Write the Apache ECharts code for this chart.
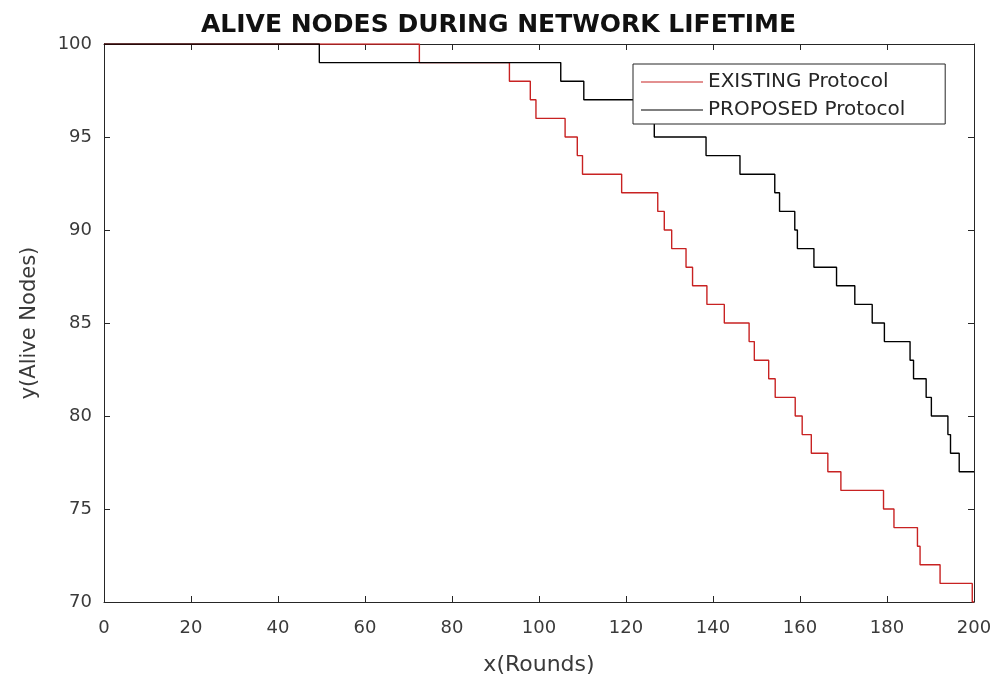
<!DOCTYPE html>
<html>
<head>
<meta charset="utf-8">
<script src="https://cdn.jsdelivr.net/npm/echarts@6/dist/echarts.min.js"></script>
<style>
html,body{margin:0;padding:0;background:#fff;}
#chart{width:997px;height:675px;}
</style>
</head>
<body>
<div id="chart"></div>
<script>
// ---- data ----
const titleText = 'ALIVE NODES DURING NETWORK LIFETIME';
const xAxisName = 'x(Rounds)';
const yAxisName = 'y(Alive Nodes)';
const seriesNames = ['EXISTING Protocol', 'PROPOSED Protocol'];

// rounds at which the number of alive nodes changes, and the new value
const existingRounds = [0, 72.5, 93.2, 98, 99.3, 106, 108.8, 110, 119, 127.3, 128.8, 130.5, 133.8, 135.3, 138.6, 142.6, 148.3, 149.5, 152.8, 154.3, 158.9, 160.5, 162.6, 166.4, 169.4, 179.2, 181.6, 187, 187.6, 192.2, 199.6, 200];
const existingAlive  = [100, 99, 98, 97, 96, 95, 94, 93, 92, 91, 90, 89, 88, 87, 86, 85, 84, 83, 82, 81, 80, 79, 78, 77, 76, 75, 74, 73, 72, 71, 70, 70];

const proposedRounds = [0, 49.5, 105, 110.3, 122, 126.5, 138.4, 146.2, 154.2, 155.3, 158.8, 159.4, 163.2, 168.4, 172.6, 176.6, 179.4, 185.3, 186.1, 189, 190.2, 194, 194.6, 196.6, 200];
const proposedAlive  = [100, 99, 98, 97, 96, 95, 94, 93, 92, 91, 90, 89, 88, 87, 86, 85, 84, 83, 82, 81, 80, 79, 78, 77, 77];

const xTicks = [0, 20, 40, 60, 80, 100, 120, 140, 160, 180, 200];
const yTicks = [70, 75, 80, 85, 90, 95, 100];

// ---- chart ----
const pairs = (xs, ys) => xs.map((x, i) => [x, ys[i]]);
const axisColor = '#262626';
const labelColor = '#3a3a3a';
const font = '"DejaVu Sans", "Liberation Sans", Arial, sans-serif';

const chart = echarts.init(document.getElementById('chart'), null, {renderer: 'canvas'});
const xCommon = {
  type: 'value', min: xTicks[0], max: xTicks[xTicks.length - 1], interval: xTicks[1] - xTicks[0],
  axisLine: {show: true, onZero: false, lineStyle: {color: axisColor, width: 1}},
  axisTick: {show: true, inside: true, length: 6, lineStyle: {color: axisColor}},
  splitLine: {show: false}
};
const yCommon = {
  type: 'value', min: yTicks[0], max: yTicks[yTicks.length - 1], interval: yTicks[1] - yTicks[0],
  axisLine: {show: true, onZero: false, lineStyle: {color: axisColor, width: 1}},
  axisTick: {show: true, inside: true, length: 6, lineStyle: {color: axisColor}},
  splitLine: {show: false}
};

chart.setOption({
  backgroundColor: '#ffffff',
  animation: false,
  title: {
    text: titleText, left: 'center', top: 8,
    textStyle: {fontFamily: font, fontWeight: 'bold', fontSize: 25, color: '#111'}
  },
  grid: {left: 104, right: 23, top: 44, bottom: 73, containLabel: false, outerBoundsMode: 'none'},
  legend: {
    data: seriesNames, orient: 'vertical', left: 633, top: 64, z: 10,
    icon: 'rect', itemWidth: 62, itemHeight: 1, itemGap: 8,
    padding: [8, 40, 4, 8],
    backgroundColor: '#ffffff', borderColor: axisColor, borderWidth: 1,
    textStyle: {fontFamily: font, fontSize: 20, color: '#262626', lineHeight: 20}
  },
  xAxis: [
    Object.assign({}, xCommon, {
      position: 'bottom', name: xAxisName, nameLocation: 'middle', nameGap: 52,
      nameTextStyle: {fontFamily: font, fontSize: 22, color: labelColor},
      axisLabel: {show: true, margin: 17, fontFamily: font, fontSize: 18, color: labelColor}
    }),
    Object.assign({}, xCommon, {position: 'top', axisLabel: {show: false}})
  ],
  yAxis: [
    Object.assign({}, yCommon, {
      position: 'left', name: yAxisName, nameLocation: 'middle', nameGap: 64,
      nameTextStyle: {fontFamily: font, fontSize: 21, color: labelColor},
      axisLabel: {show: true, margin: 12, fontFamily: font, fontSize: 18, color: labelColor}
    }),
    Object.assign({}, yCommon, {position: 'right', axisLabel: {show: false}})
  ],
  series: [
    {
      name: seriesNames[0], type: 'line', step: 'end', symbol: 'none',
      data: pairs(existingRounds, existingAlive),
      lineStyle: {color: '#c82222', width: 1.4}, itemStyle: {color: '#c82222'}, z: 2
    },
    {
      name: seriesNames[1], type: 'line', step: 'end', symbol: 'none',
      data: pairs(proposedRounds, proposedAlive),
      lineStyle: {color: '#000000', width: 1.4}, itemStyle: {color: '#000000'}, z: 3
    }
  ]
});
</script>
</body>
</html>
